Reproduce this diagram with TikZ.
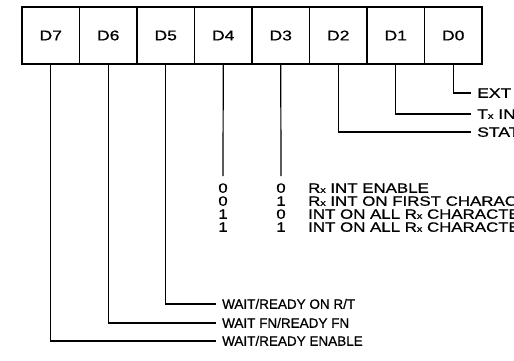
\documentclass[tikz,border=0pt]{standalone}
\usepackage{fontspec}
\setmainfont[FakeBold=0.8]{Liberation Sans}
\newfontfamily\modefont[FakeStretch=1.25,FakeBold=0.8]{Liberation Sans}
\newfontfamily\sidefont[FakeStretch=1.3,FakeBold=0.8]{Liberation Sans}
\usetikzlibrary{positioning}
\newcommand{\subx}{{\fontsize{8.5}{8.5}\selectfont x}}

\begin{document}
\begin{tikzpicture}[
        x=1pt, y=-1pt,
        node distance=0pt,
        bit/.style={
            rectangle,
            draw=black,
            line width=1.3pt,
            outer sep=0pt,
            minimum width=57.5pt,
            minimum height=57pt,
            font=\modefont\fontsize{14}{14}\selectfont
        },
        desc/.style={
            anchor=west,
            inner xsep=6pt,
            inner ysep=0pt,
            text height=9.5pt,
            text depth=0pt,
            font=\fontsize{13.5}{14}\selectfont
        },
        side/.style={desc, font=\sidefont\fontsize{13.5}{14}\selectfont},
        mode/.style={desc, font=\modefont\fontsize{13.5}{14}\selectfont},
        digit/.style={
            inner sep=0pt,
            text height=9.5pt,
            text depth=0pt,
            font=\modefont\fontsize{13.5}{14}\selectfont
        },
        wire/.style={line width=1.2pt}
    ]

    \useasboundingbox (0,0) rectangle (514,361);
    \clip (0,0) rectangle (514,361);

    % register bits
    \node[bit, anchor=north west] (d7) at (22,7) {D7};
    \node[bit, right=of d7] (d6) {D6};
    \node[bit, right=of d6] (d5) {D5};
    \node[bit, right=of d5] (d4) {D4};
    \node[bit, right=of d4] (d3) {D3};
    \node[bit, right=of d3] (d2) {D2};
    \node[bit, right=of d2] (d1) {D1};
    \node[bit, right=of d1] (d0) {D0};

    % low bits
    \node[side] (extint) at (471,93) {EXT INT ENABLE};
    \node[side] (txint) at (471,114) {T\subx{} INT ENABLE};
    \node[side] (status) at (471,132) {STATUS AFFECTS VECTOR};

    % receive interrupt modes
    \node[digit] (a0) at (223,188) {0};
    \node[digit] (b0) at (281,188) {0};
    \node[mode] (rxint) at (302,188) {R\subx{} INT ENABLE};
    \node[digit] (a1) at (223,201) {0};
    \node[digit] (b1) at (281,201) {1};
    \node[mode] (rxfirst) at (302,201) {R\subx{} INT ON FIRST CHARACTER};
    \node[digit] (a2) at (223,214) {1};
    \node[digit] (b2) at (281,214) {0};
    \node[mode] (rxall) at (302,214) {INT ON ALL R\subx{} CHARACTERS (PARITY AFFECTS VECTOR)};
    \node[digit] (a3) at (223,227) {1};
    \node[digit] (b3) at (281,227) {1};
    \node[mode] (rxallnp) at (302,227) {INT ON ALL R\subx{} CHARACTERS (PARITY DOES NOT AFFECT VECTOR)};
    \coordinate (e4) at (223,176);
    \coordinate (e3) at (281,176);

    % wait/ready
    \node[desc] (wrrt) at (216,304) {WAIT/READY ON R/T};
    \node[desc] (wfn) at (216,323) {WAIT FN/READY FN};
    \node[desc] (wren) at (216,341) {WAIT/READY ENABLE};

    \draw[wire] (d0.south) |- (extint.west);
    \draw[wire] (d1.south) |- (txint.west);
    \draw[wire] (d2.south) |- (status.west);
    \draw[wire] (d4.south) -- (e4);
    \draw[wire] (d3.south) -- (e3);
    \draw[wire] (d5.south) |- (wrrt.west);
    \draw[wire] (d6.south) |- (wfn.west);
    \draw[wire] (d7.south) |- (wren.west);

\end{tikzpicture}
\end{document}
